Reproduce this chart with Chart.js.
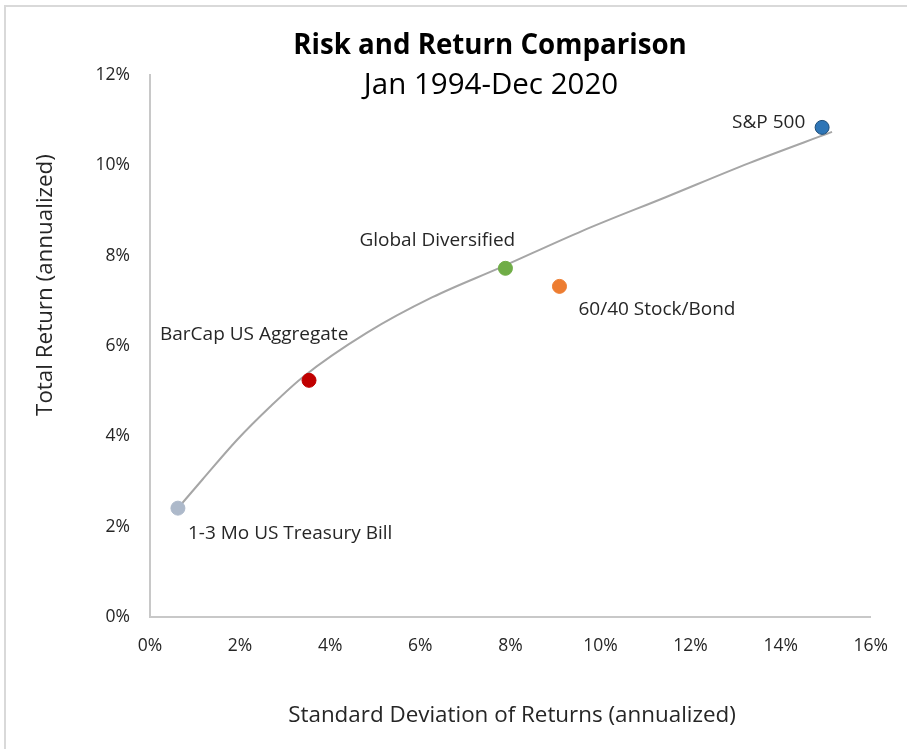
<!DOCTYPE html>
<html>
<head>
<meta charset="utf-8">
<script src="https://cdn.jsdelivr.net/npm/chart.js@4.4.0/dist/chart.umd.min.js"></script>
<style>
    html, body { margin: 0; padding: 0; background: #fff; }
    #frame {
        position: absolute; left: 4px; top: 5px; right: 0; bottom: 0;
        border-left: 2px solid #d9d9d9; border-top: 2px solid #d9d9d9;
    }
    #risk-chart { position: absolute; left: 0; top: 0; }
</style>
</head>
<body>
<div id="frame"></div>
<canvas id="risk-chart" width="907" height="749"></canvas>
<script>
// ===================================
// DATA
// ===================================
const assetNames = [
    '1-3 Mo US Treasury Bill',
    'BarCap US Aggregate',
    'Global Diversified',
    '60/40 Stock/Bond',
    'S&P 500'
];
const stdDev = [0.62, 3.53, 7.89, 9.09, 14.92];      // x, % annualized
const totalReturn = [2.41, 5.24, 7.72, 7.32, 10.84];  // y, % annualized
const assetColors = ['#adb9ca', '#c00000', '#70ad47', '#ed7d31', '#2e75b6'];
const assetBorders = ['#adb9ca', '#c00000', '#70ad47', '#ed7d31', '#1f4e79'];

// trend curve
const trendX = [0.62, 1.17, 1.93, 2.66, 3.39, 4.81, 6.27, 7.76, 9.60, 11.46, 13.30, 15.14];
const trendY = [2.41, 3.05, 3.92, 4.65, 5.31, 6.29, 7.08, 7.73, 8.55, 9.30, 10.05, 10.74];

const xTicks = [0, 2, 4, 6, 8, 10, 12, 14, 16];
const yTicks = [0, 2, 4, 6, 8, 10, 12];

// label placement relative to each point (pixels)
const labelOffsets = [
    { dx: 10, dy: 25 },
    { dx: -149, dy: -46 },
    { dx: -146, dy: -28 },
    { dx: 19, dy: 23 },
    { dx: -90, dy: -5 }
];

const FONT = '"Open Sans", Lato, sans-serif';
const TEXT = '#262626';

// ===================================
// PLUGINS
// ===================================
const pointLabels = {
    id: 'pointLabels',
    afterDatasetsDraw(chart) {
        const { ctx, scales } = chart;
        ctx.save();
        ctx.font = '19px ' + FONT;
        ctx.fillStyle = TEXT;
        ctx.textAlign = 'left';
        ctx.textBaseline = 'middle';
        assetNames.forEach((name, i) => {
            const px = scales.x.getPixelForValue(stdDev[i]);
            const py = scales.y.getPixelForValue(totalReturn[i]);
            ctx.fillText(name, px + labelOffsets[i].dx, py + labelOffsets[i].dy);
        });
        ctx.restore();
    }
};

const titleBlock = {
    id: 'titleBlock',
    afterDraw(chart) {
        const { ctx } = chart;
        ctx.save();
        ctx.fillStyle = '#000';
        ctx.textAlign = 'center';
        ctx.textBaseline = 'middle';
        ctx.font = 'bold 27.7px ' + FONT;
        ctx.fillText('Risk and Return Comparison', 490, 46);
        ctx.font = '29.5px ' + FONT;
        ctx.fillText('Jan 1994-Dec 2020', 491, 86);

        // axis titles
        ctx.fillStyle = TEXT;
        ctx.font = '22.4px ' + FONT;
        ctx.fillText('Standard Deviation of Returns (annualized)', 512, 716);
        ctx.translate(46, 285);
        ctx.rotate(-Math.PI / 2);
        ctx.fillText('Total Return (annualized)', 0, 0);
        ctx.restore();
    }
};

// ===================================
// CHART
// ===================================
const ctx = document.getElementById('risk-chart');

new Chart(ctx, {
    type: 'scatter',
    data: {
        datasets: [
            {
                label: 'Trend',
                data: trendX.map((x, i) => ({ x, y: trendY[i] })),
                showLine: true,
                borderColor: '#a6a6a6',
                borderWidth: 2,
                pointRadius: 0,
                cubicInterpolationMode: 'monotone',
                order: 2
            },
            {
                label: 'Assets',
                data: stdDev.map((x, i) => ({ x, y: totalReturn[i] })),
                backgroundColor: assetColors,
                borderColor: assetBorders,
                borderWidth: 1,
                pointRadius: 7,
                order: 1
            }
        ]
    },
    options: {
        responsive: false,
        animation: false,
        devicePixelRatio: 1,
        layout: { padding: { top: 75, right: 35, left: 0, bottom: 0 } },
        plugins: {
            legend: { display: false },
            tooltip: { enabled: false }
        },
        scales: {
            x: {
                type: 'linear',
                min: 0,
                max: 16,
                afterBuildTicks: scale => { scale.ticks = xTicks.map(v => ({ value: v })); },
                afterFit: scale => { scale.height = 132; },
                grid: { display: false, drawTicks: false },
                border: { display: true, color: '#c8c8c8', width: 2 },
                ticks: {
                    color: TEXT,
                    padding: 19,
                    font: { family: FONT, size: 17.5 },
                    callback: v => v + '%'
                }
            },
            y: {
                type: 'linear',
                min: 0,
                max: 12,
                afterBuildTicks: scale => { scale.ticks = yTicks.map(v => ({ value: v })); },
                afterFit: scale => { scale.width = 150; },
                grid: { display: false, drawTicks: false },
                border: { display: true, color: '#c8c8c8', width: 2 },
                ticks: {
                    color: TEXT,
                    padding: 20,
                    font: { family: FONT, size: 17.5 },
                    callback: v => v + '%'
                }
            }
        }
    },
    plugins: [pointLabels, titleBlock]
});
</script>
</body>
</html>
